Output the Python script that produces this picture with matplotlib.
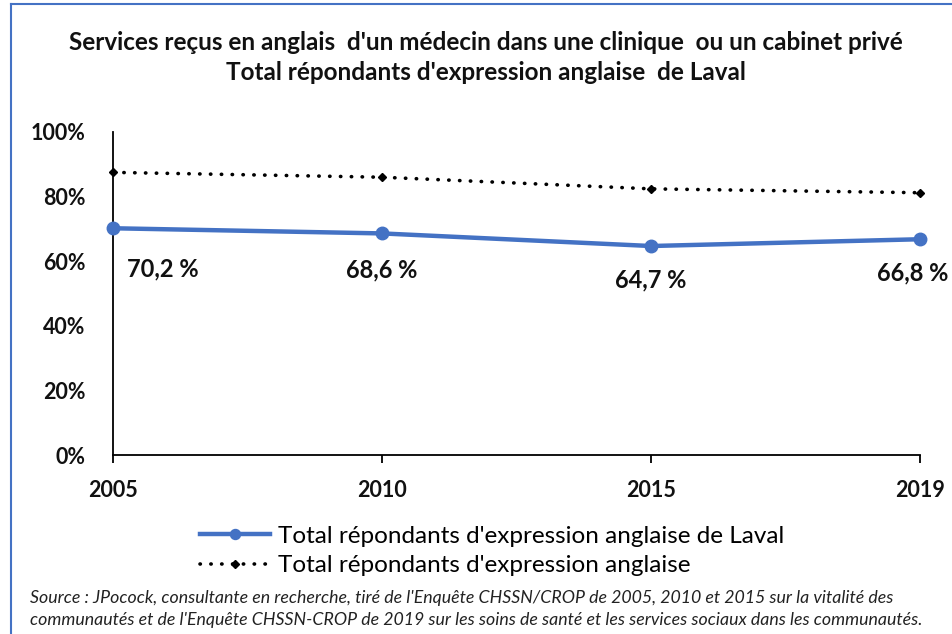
import matplotlib.pyplot as plt
from matplotlib.lines import Line2D

plt.rcParams['font.family'] = ['Lato', 'DejaVu Sans']

years = ['2005', '2010', '2015', '2019']
laval = [70.2, 68.6, 64.7, 66.8]
total = [87.5, 86.0, 82.4, 81.2]
laval_labels = ['70,2 %', '68,6 %', '64,7 %', '66,8 %']
yticks = [0, 20, 40, 60, 80, 100]

blue = '#4472C4'
W, H = 953, 634
fig = plt.figure(figsize=(W / 100, H / 100), dpi=100)
ax = fig.add_axes([113 / W, 1 - 455 / H, (920 - 113) / W, (455 - 132) / H])

x = list(range(len(years)))
ax.plot(x, total, color='black', lw=2.6, linestyle=(0, (0.1, 2.9)),
        dash_capstyle='round', marker='D', ms=4.5, label="Total répondants d'expression anglaise",
        clip_on=False, zorder=3)
ax.plot(x, laval, color=blue, lw=3.2, marker='o', ms=9,
        label="Total répondants d'expression anglaise de Laval", clip_on=False, zorder=4)

# label offsets (points) below each point; last one nudged left to stay inside
offs = [(10, -29), (0, -26.5), (0, -24.5), (-5, -24.5)]
aligns = ['left', 'center', 'center', 'center']
for i, (v, t) in enumerate(zip(laval, laval_labels)):
    ax.annotate(t, (x[i], v), xytext=offs[i], textcoords='offset points',
                ha=aligns[i], va='center', fontsize=17, fontweight='bold', color='#111111',
                annotation_clip=False)

ax.set_xlim(0, 3)
ax.set_ylim(0, 100)
ax.set_xticks(x)
ax.set_xticklabels(years)
ax.set_yticks(yticks)
ax.set_yticklabels([f'{v}%' for v in yticks])
ax.spines['top'].set_visible(False)
ax.spines['right'].set_visible(False)
for s in ['left', 'bottom']:
    ax.spines[s].set_linewidth(1.3)
ax.tick_params(axis='x', length=6, width=1.3, direction='out', pad=12, labelsize=15.5)
ax.tick_params(axis='y', length=0, pad=20, labelsize=15.5)
for lab in ax.get_xticklabels() + ax.get_yticklabels():
    lab.set_fontweight('bold')
    lab.set_color('#111111')

fig.text(486 / W, 1 - 42 / H, "Services reçus en anglais  d'un médecin dans une clinique  ou un cabinet privé",
         ha='center', va='center', fontsize=17.5, fontweight='bold', color='#111111')
fig.text(486 / W, 1 - 72 / H, "Total répondants d'expression anglaise  de Laval",
         ha='center', va='center', fontsize=17.5, fontweight='bold', color='#111111')

h, l = ax.get_legend_handles_labels()
fig.legend(h[::-1], l[::-1], loc='center', bbox_to_anchor=(492 / W, 1 - 551 / H),
           frameon=False, fontsize=17.5, handlelength=2.9, labelspacing=0.35, handletextpad=0.3,
           borderpad=0, markerscale=0.8)

src = ("Source : JPocock, consultante en recherche, tiré de l'Enquête CHSSN/CROP de 2005, 2010 et 2015 sur la vitalité des\n"
       "communautés et de l'Enquête CHSSN-CROP de 2019 sur les soins de santé et les services sociaux dans les communautés.")
fig.text(30 / W, 1 - 609 / H, src, ha='left', va='center', fontsize=12.8, style='italic',
         color='#222222', linespacing=1.45)

fig.add_artist(Line2D([11 / W, 11 / W], [0, 1 - 4 / H], transform=fig.transFigure, color=blue, lw=1.5))
fig.add_artist(Line2D([11 / W, 1], [1 - 4 / H, 1 - 4 / H], transform=fig.transFigure, color=blue, lw=1.5))

fig.savefig('out.png', dpi=100)
